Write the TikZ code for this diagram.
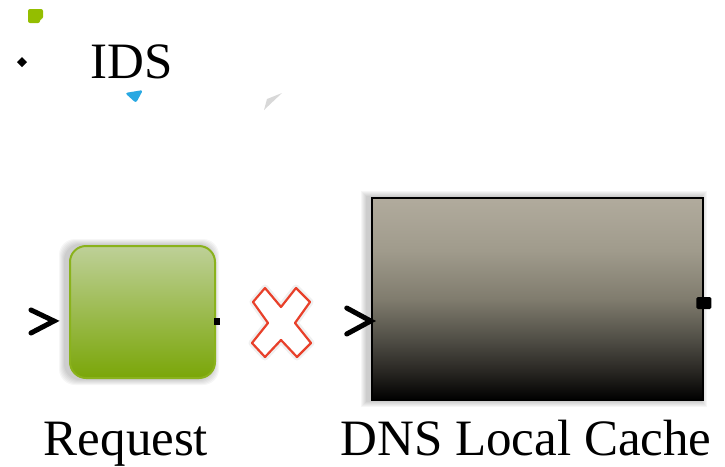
\documentclass[tikz,border=0pt]{standalone}
\usepackage{fontspec}
\setmainfont{Liberation Serif}
\usetikzlibrary{positioning,backgrounds}

\definecolor{reqtop}{RGB}{190,208,152}
\definecolor{reqbot}{RGB}{122,166,8}
\definecolor{reqline}{RGB}{138,178,28}
\definecolor{cachetop}{RGB}{177,171,157}
\definecolor{cacheupper}{RGB}{160,155,140}
\definecolor{cachemid}{RGB}{128,124,110}
\definecolor{cachelower}{RGB}{80,78,70}
\definecolor{cachedeep}{RGB}{40,38,34}
\definecolor{xred}{RGB}{232,64,42}
\definecolor{icongreen}{RGB}{148,190,0}
\definecolor{iconblue}{RGB}{40,168,226}
\definecolor{icongrey}{RGB}{216,216,216}

\pgfdeclareverticalshading{cacheshade}{100bp}{color(0bp)=(black); color(25bp)=(black);
  color(32bp)=(cachedeep); color(40bp)=(cachelower); color(50bp)=(cachemid);
  color(62bp)=(cacheupper); color(75bp)=(cachetop); color(100bp)=(cachetop)}

\tikzset{
  labeltext/.style={font=\fontsize{51}{60}\selectfont, inner sep=0pt, anchor=base},
  reqbox/.style={rounded corners=16pt, minimum width=145pt, minimum height=132pt,
    inner sep=0pt, draw=reqline, line width=2pt, top color=reqtop, bottom color=reqbot},
  cachebox/.style={minimum width=331pt, minimum height=202pt, inner sep=0pt,
    draw=black, line width=2.5pt, shading=cacheshade},
  portin/.style={line width=5pt, line cap=round, line join=miter},
  xmark/.style={draw=xred, line width=2.2pt, fill=white, line join=round},
}

\begin{document}
\begin{tikzpicture}[x=1pt, y=-1pt]
\useasboundingbox (0,0) rectangle (725,466);

% icons of the IDS group
\fill[icongreen, rounded corners=2pt] (28,9) -- (43,9) -- (43,19) -- (40,19) -- (40,23) -- (28,23) -- cycle;
\fill[black] (22,57) -- (27,62) -- (22,67) -- (17,62) -- cycle;
\fill[iconblue, rounded corners=2.5pt] (125,93) -- (143,90) -- (136,103) -- cycle;
\fill[icongrey] (282,93) -- (267,99) -- (264,110) -- cycle;
\node[labeltext] (ids) at (132,78) {IDS};

% blocks
\node[reqbox] (req) at (142.5,312) {};
\node[cachebox] (cache) at (537.5,299) {};

\begin{scope}[on background layer]
  \foreach \d in {1,...,6}{
    \fill[black, opacity=0.035, rounded corners=16pt]
      ([shift={(-\d-4,-\d)}]req.north west) rectangle ([shift={(\d-3,\d)}]req.south east);
    \fill[black, opacity=0.035]
      ([shift={(-\d-4,-\d)}]cache.north west) rectangle ([shift={(\d-3,\d)}]cache.south east);
  }
\end{scope}

% ports
\coordinate (req in) at ([shift={(-15,9)}]req.west);
\coordinate (cache in) at ([shift={(0,22)}]cache.west);
\draw[portin] ([shift={(-23,-11)}]req in) -- (req in) -- ([shift={(-23,12)}]req in);
\draw[portin] ([shift={(-24,-13)}]cache in) -- (cache in) -- ([shift={(-24,13)}]cache in);
\fill[black] ([shift={(-2,6)}]req.east) rectangle ([shift={(4,13)}]req.east);
\fill[black, rounded corners=1.5pt] ([shift={(-8,-2)}]cache.east) -- ([shift={(7,-2)}]cache.east)
  -- ([shift={(7,10)}]cache.east) -- ([shift={(-8,10)}]cache.east) -- cycle;

% broken link mark
\draw[black, opacity=0.06, line width=7pt, line join=round]
  (253,302) -- (265,288) -- (281,307) -- (296,288) -- (310,302) -- (295,323) -- (311,343)
  -- (297,357) -- (281,340) -- (265,357) -- (252,343) -- (268,323) -- cycle;
\draw[xmark]
  (253,302) -- (265,288) -- (281,307) -- (296,288) -- (310,302) -- (295,323) -- (311,343)
  -- (297,357) -- (281,340) -- (265,357) -- (252,343) -- (268,323) -- cycle;

% labels
\node[labeltext] (req label) at (126,455) {Request};
\node[labeltext] (cache label) at (526,455) {DNS Local Cache};

\end{tikzpicture}
\end{document}
